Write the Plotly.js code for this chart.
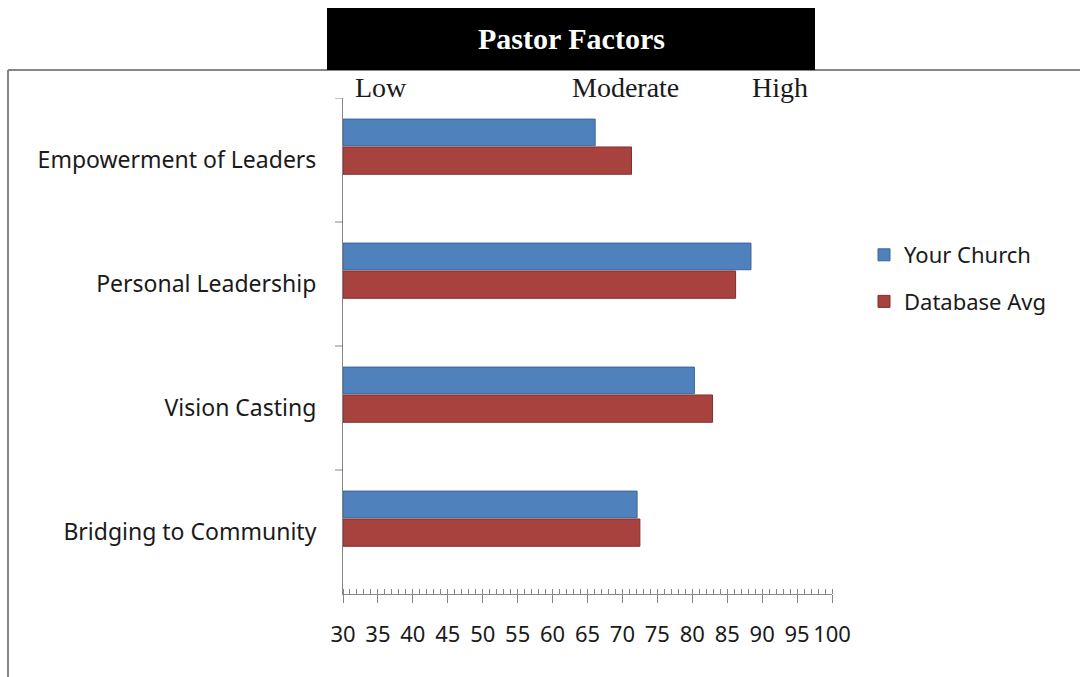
<!DOCTYPE html>
<html>
<head>
<meta charset="utf-8">
<script src="https://cdn.plot.ly/plotly-3.0.1.min.js"></script>
<style>html,body{margin:0;padding:0;background:#fff;}#chart{width:1080px;height:677px;}</style>
</head>
<body>
<div id="chart"></div>
<script>
const categories = ["Empowerment of Leaders", "Personal Leadership", "Vision Casting", "Bridging to Community"];
const yourChurch = [66.1, 88.4, 80.3, 72.1];
const databaseAvg = [71.3, 86.2, 82.9, 72.5];
const seriesNames = ["Your Church", "Database Avg"];
const levelLabels = ["Low", "Moderate", "High"];
const xTickVals = [30, 35, 40, 45, 50, 55, 60, 65, 70, 75, 80, 85, 90, 95, 100];
const chartTitle = "Pastor Factors";

const L = 343, R = 832, T = 98, B = 594;
const W = R - L, H = B - T;
const px = x => (x - L) / W;
const py = y => (B - y) / H;

const catIdx = categories.map((c, i) => i);
const labelFont = {family: "'Noto Sans', sans-serif", size: 22, color: "#1a1a1a"};
const catFont = {family: "'Noto Sans', sans-serif", size: 23, color: "#1a1a1a"};
const serifFont = {family: "'Liberation Serif', serif", size: 28, color: "#1a1a1a"};

const traces = [
  {
    type: "bar", orientation: "h", name: seriesNames[0],
    y: catIdx, x: yourChurch.map(v => v - 30), base: 30,
    offset: -0.33, width: 0.215,
    marker: {color: "#4F81BD", line: {color: "#3a6598", width: 1}},
    legendgroup: "a"
  },
  {
    type: "bar", orientation: "h", name: seriesNames[1],
    y: catIdx, x: databaseAvg.map(v => v - 30), base: 30,
    offset: -0.105, width: 0.22,
    marker: {color: "#A8423F", line: {color: "#7f2f2c", width: 1}},
    legendgroup: "b"
  }
];

const levelPx = [381, 625, 780];
const annotations = [
  {text: "<b>" + chartTitle + "</b>", xref: "paper", yref: "paper", x: px(571), y: py(38),
   xanchor: "center", yanchor: "middle",
   showarrow: false, font: {family: "'Liberation Serif', serif", size: 30, color: "#ffffff"}}
];
levelLabels.forEach((t, i) => {
  annotations.push({text: t, xref: "paper", yref: "paper", x: px(levelPx[i]), y: py(88),
    showarrow: false, xanchor: "center", yanchor: "middle", font: serifFont});
});

const layout = {
  width: 1080, height: 677,
  margin: {l: L, r: 1080 - R, t: T, b: 677 - B},
  paper_bgcolor: "#ffffff", plot_bgcolor: "#ffffff",
  showlegend: true,
  legend: {x: px(864), y: py(234), xanchor: "left", yanchor: "top",
    font: labelFont, traceorder: "grouped", tracegroupgap: 15, itemwidth: 30,
    bgcolor: "rgba(0,0,0,0)"},
  xaxis: {
    range: [30, 100], tickvals: xTickVals, ticktext: xTickVals.map(String),
    showgrid: false, zeroline: false, showline: true, linecolor: "#868686", linewidth: 1,
    ticks: "outside", ticklen: 8, tickcolor: "#868686", tickwidth: 1,
    minor: {dtick: 1, ticks: "inside", ticklen: 5, tickcolor: "#868686", showgrid: false},
    tickfont: labelFont, ticklabelstandoff: 13, fixedrange: true
  },
  yaxis: {
    type: "linear", range: [3.5, -0.5],
    tickvals: catIdx, ticktext: categories,
    showgrid: false, zeroline: false, showline: true, linecolor: "#868686", linewidth: 1,
    ticks: "", tickfont: catFont, ticklabelstandoff: 21, fixedrange: true
  },
  shapes: [
    {type: "line", xref: "paper", yref: "paper", x0: px(8), x1: px(1080), y0: py(70), y1: py(70),
     line: {color: "#868686", width: 2}},
    {type: "line", xref: "paper", yref: "paper", x0: px(8), x1: px(8), y0: py(70), y1: py(677),
     line: {color: "#868686", width: 2}},
    {type: "rect", xref: "paper", yref: "paper", x0: px(327), x1: px(815), y0: py(8), y1: py(70),
     fillcolor: "#000000", line: {width: 0}},
    ...[-0.5, 0.5, 1.5, 2.5].map(v => ({type: "line", xref: "paper", yref: "y", x0: px(335), x1: 0, y0: v, y1: v,
     line: {color: "#868686", width: 1}}))
  ],
  annotations: annotations
};

Plotly.newPlot("chart", traces, layout, {displayModeBar: false, staticPlot: true});
</script>
</body>
</html>
